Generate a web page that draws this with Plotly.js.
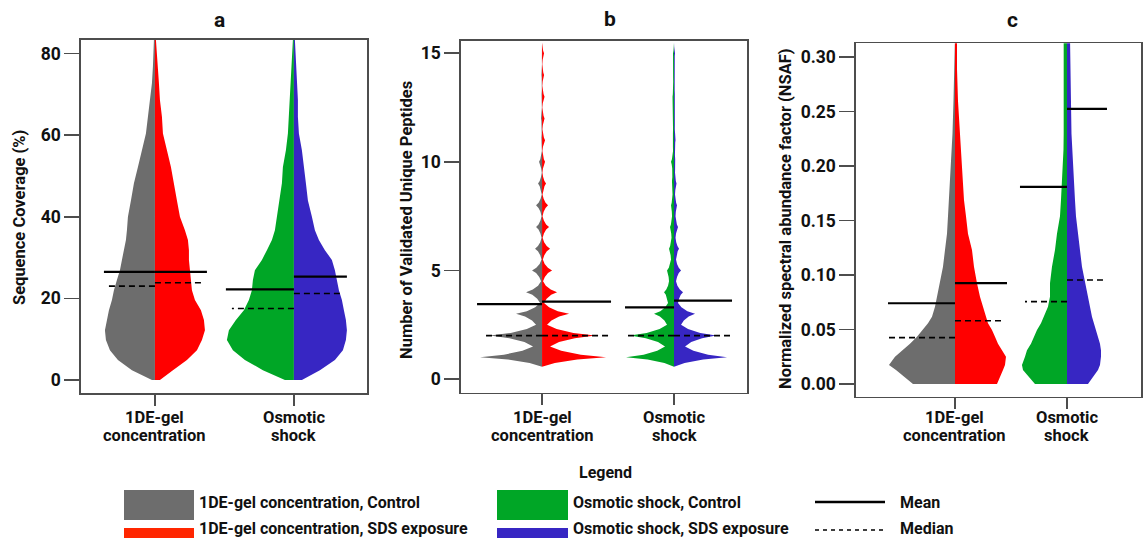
<!DOCTYPE html>
<html><head><meta charset="utf-8">
<script src="https://cdn.plot.ly/plotly-3.0.1.min.js"></script>
<style>html,body{margin:0;padding:0;background:#fff}#chart{width:1146px;height:538px}</style>
</head><body><div id="chart"></div>
<script>
// ---------------- DATA ----------------
const categories = [["1DE-gel", "concentration"], ["Osmotic", "shock"]];
const groupNames = ["1DE-gel concentration, Control", "1DE-gel concentration, SDS exposure",
                    "Osmotic shock, Control", "Osmotic shock, SDS exposure"];

// Panel a: Sequence Coverage (%) - relative density (half width) at each level
const covLevels      = [0,2.4,4.9,7.3,9.8,12.2,14.7,17.1,19.6,22,24.5,26.9,29.4,31.8,34.3,36.7,40,44,48.2,52.2,56.3,60.4,64.5,68.6,72.7,76.8,83.3];
const covGelControl  = [3,23,37,45,49,50,48,46,43,41,38,35,33,31,29,28,27,24,21,17,13,9,7,5,3,2,1];
const covGelSDS      = [5,18,32,42,47,50,49,46,40,37,36,35,34,34,33,30,25,22,19,16,12,8,7,5,4,3,1];
const covOsmControl  = [9,31,49,61,67,65,58,50,45,42,41,39,32,27,22,19,17,15,12,11,8,6,5,4,3,2,1];
const covOsmSDS      = [8,26,41,49,52,53,52,50,48,45,43,41,38,31,25,21,18,14,12,10,8,5,4,4,3,2,1];
const covMean        = [26.5, 26.5, 22.2, 25.3];
const covMedian      = [23.0, 23.8, 17.5, 21.2];

// Panel b: Number of Validated Unique Peptides (counts 1..15)
const pepCounts           = [1,2,3,4,5,6,7,8,9,10,11,12,13,14,15];
const pepRange            = [0.57, 15.5];
const pepPeakGelControl   = [62,52,26,16,10,7,6,6,4,3,1,1,0.8,0.6,0.5];
const pepTroughGelControl = [9,6,2,1,0.5,0.5,0.5,0.3,0.3,0.2,0.2,0.2,0.1,0.1];
const pepPeakGelSDS       = [64,53,27,15,10,8,7,6,4,3,3,2.5,2.5,2,2];
const pepTroughGelSDS     = [8,5,2,1,0.8,0.6,0.5,0.5,0.4,0.4,0.4,0.3,0.3,0.3];
const pepPeakOsmControl   = [48,44,20,10,7,5,4,3,2.5,3,1.5,1.5,1.5,1,1];
const pepTroughOsmControl = [9,7,6,5,3,2.5,2,1.5,1.5,1,1,1,0.8,0.8];
const pepPeakOsmSDS       = [53,42,21,9,7,5,4,3,2.5,1.5,1.5,1,1,1,1];
const pepTroughOsmSDS     = [11,7,4,2,2,1.5,1.5,1,1,0.8,0.8,0.6,0.6,0.5];
const pepMean             = [3.45, 3.56, 3.30, 3.61];
const pepMedian           = [2, 2, 2, 2];

// Panel c: NSAF
const nsafLevels      = [0,0.0129,0.0174,0.025,0.031,0.037,0.0434,0.0496,0.0557,0.0618,0.071,0.080,0.0925,0.1077,0.123,0.138,0.154,0.169,0.184,0.2,0.215,0.23,0.26,0.29,0.32];
const nsafGelControl  = [42,59,66,60,52,45,38,32,27,23,20,18,15,12,10,8,7,6,5,4,3,2.5,1.5,1,0.5];
const nsafGelSDS      = [42,48,50,51,47,43,40,37,33,31,28,25,22,19,17,13,11,9,8,7,6,5,3,2,2];
const nsafOsmControl  = [32,44,45,42,40,36,33,30,26,23,19,17,17,15,12,10,7,6,5,4,3.5,3.3,3.3,3.3,3.3];
const nsafOsmSDS      = [21,31,33,34,34,33,31,29,27,25,23,21,18,15,13,11,9,8,7,6,5,4.5,4,3.5,3];
const nsafMean        = [0.0741, 0.0925, 0.181, 0.2525];
const nsafMedian      = [0.0425, 0.058, 0.0756, 0.0955];

// ---------------- STYLE ----------------
const W = 1146, H = 538;
const violinColors = ["#6d6d6d", "#ff0000", "#00a626", "#3726c3"];
const legendColors = ["#6d6d6d", "#ff2600", "#00a626", "#3726c3"];
const FONT = "Roboto, 'Open Sans', Arial, sans-serif";
const AXC = "#4d4d4d";
// panel boxes in pixels [left, right, top, bottom]
const boxes = [[81,367,40,393],[461,747,40.7,392.7],[856,1141,43.3,396.7]];
const xRanges = [[0.468,2.526],[0.386,2.553],[0.116,2.661]];
const yRanges = [[-3.2,83.3],[-0.63,15.58],[-0.0117,0.3128]];
const yTicks  = [[0,20,40,60,80],[0,5,10,15],[0,0.05,0.10,0.15,0.20,0.25,0.30]];
const yFormats = ["", "", ".2f"];
const meanLen = [[51,52,68,53],[65,69,49,58],[67,52,47,40]];
const medLen  = [[47,47,62,48],[56,68,46,58],[67,48,42,40]];
const catLabelY = [[417,435],[417,435],[417,436]];
// spike shape between trough (t=1) and peak (t=0)
const SHAPE = [[1,0],[0.6,0.2],[0.24,0.55],[0,1]];

function spikeProfile(peaks, troughs, start, end){
  const L=[], Wd=[];
  for(let i=0;i<peaks.length;i++){
    const k=pepCounts[i], P=peaks[i];
    const lowT = i===0?0:troughs[i-1], lowPos = i===0?start:k-0.5;
    const last = i===peaks.length-1;
    const upT = last?0:troughs[i], upPos = last?end:k+0.5;
    if(i===0){L.push(lowPos);Wd.push(lowT);}
    for(let j=1;j<SHAPE.length;j++){const [t,f]=SHAPE[j];L.push(k-(k-lowPos)*t);Wd.push(lowT+(P-lowT)*f);}
    for(let j=SHAPE.length-2;j>=0;j--){const [t,f]=SHAPE[j];L.push(k+(upPos-k)*t);Wd.push(upT+(P-upT)*f);}
  }
  return [L,Wd];
}

const pepProfiles = [
  spikeProfile(pepPeakGelControl, pepTroughGelControl, pepRange[0], pepRange[1]),
  spikeProfile(pepPeakGelSDS, pepTroughGelSDS, pepRange[0], pepRange[1]),
  spikeProfile(pepPeakOsmControl, pepTroughOsmControl, pepRange[0], pepRange[1]),
  spikeProfile(pepPeakOsmSDS, pepTroughOsmSDS, pepRange[0], pepRange[1])
];
const panels = [
  {profiles:[[covLevels,covGelControl],[covLevels,covGelSDS],[covLevels,covOsmControl],[covLevels,covOsmSDS]], mean:covMean, median:covMedian},
  {profiles:pepProfiles, mean:pepMean, median:pepMedian},
  {profiles:[[nsafLevels,nsafGelControl],[nsafLevels,nsafGelSDS],[nsafLevels,nsafOsmControl],[nsafLevels,nsafOsmSDS]], mean:nsafMean, median:nsafMedian}
];

const traces = [];
panels.forEach((p, pi) => {
  const xa = pi===0?"x":"x"+(pi+1), ya = pi===0?"y":"y"+(pi+1);
  const b = boxes[pi];
  const scale = (xRanges[pi][1]-xRanges[pi][0])/(b[1]-b[0]); // data units per px
  p.profiles.forEach((prof, gi) => {
    const c = gi<2?1:2, dir = gi%2===0?-1:1;
    const [lv, wd] = prof;
    const xs=[c], ys=[lv[0]];
    lv.forEach((l,i)=>{xs.push(c+dir*wd[i]*scale); ys.push(l);});
    xs.push(c); ys.push(lv[lv.length-1]);
    traces.push({type:"scatter", mode:"lines", x:xs, y:ys, xaxis:xa, yaxis:ya, fill:"toself",
      fillcolor:violinColors[gi], line:{width:0, color:violinColors[gi]}, hoverinfo:"skip", showlegend:false});
  });
  [0,1,2,3].forEach(gi => {
    const c = gi<2?1:2, dir = gi%2===0?-1:1;
    traces.push({type:"scatter", mode:"lines", x:[c, c+dir*meanLen[pi][gi]*scale], y:[p.mean[gi],p.mean[gi]],
      xaxis:xa, yaxis:ya, line:{color:"#000", width:2.2}, hoverinfo:"skip", showlegend:false});
    traces.push({type:"scatter", mode:"lines", x:[c, c+dir*medLen[pi][gi]*scale], y:[p.median[gi],p.median[gi]],
      xaxis:xa, yaxis:ya, line:{color:"#000", width:1.6, dash:"6px,4px"}, hoverinfo:"skip", showlegend:false});
  });
});

const layout = {width:W, height:H, margin:{l:0,r:0,t:0,b:0}, paper_bgcolor:"#fff", plot_bgcolor:"#fff",
  showlegend:false, shapes:[], annotations:[]};
const X = px => px/W, Y = py => 1-py/H;
function txt(text, px, py, opts){
  layout.annotations.push(Object.assign({text:text, x:X(px), y:Y(py), xref:"paper", yref:"paper", showarrow:false,
    xanchor:"center", yanchor:"middle", font:{family:FONT, size:16.5, weight:"bold", color:"#111"}}, opts||{}));
}
boxes.forEach((b, pi) => {
  const sfx = pi===0?"":String(pi+1);
  layout["xaxis"+sfx] = {domain:[b[0]/W, b[1]/W], range:xRanges[pi], anchor:"y"+sfx,
    tickvals:[1,2], showticklabels:false, showline:true, mirror:true, linecolor:AXC, linewidth:1.6,
    ticks:"outside", ticklen:11, tickwidth:1.6, tickcolor:AXC, showgrid:false, zeroline:false, fixedrange:true};
  layout["yaxis"+sfx] = {domain:[1-b[3]/H, 1-b[2]/H], range:yRanges[pi], anchor:"x"+sfx,
    tickvals:yTicks[pi], tickformat:yFormats[pi], showline:true, mirror:true, linecolor:AXC, linewidth:1.6,
    ticks:"outside", ticklen:15, tickwidth:1.6, tickcolor:AXC, showgrid:false, zeroline:false, fixedrange:true,
    tickfont:{family:FONT, size:17.5, weight:"bold", color:"#111"}};
  // category labels, placed on the category positions of this x axis
  categories.forEach((lines, ci) => {
    lines.forEach((ln, li) => {
      layout.annotations.push({text:ln, x:ci+1, xref:"x"+sfx, y:Y(catLabelY[pi][li]), yref:"paper",
        showarrow:false, xanchor:"center", yanchor:"middle",
        font:{family:FONT, size:16.5, weight:"bold", color:"#111"}});
    });
  });
});
// panel letters
txt("a", 219, 20, {font:{family:FONT, size:21, weight:"bold", color:"#111"}});
txt("b", 610, 19, {font:{family:FONT, size:21, weight:"bold", color:"#111"}});
txt("c", 1012, 20, {font:{family:FONT, size:21, weight:"bold", color:"#111"}});
// axis titles
txt("Sequence Coverage (%)", 20, 218, {textangle:-90});
txt("Number of Validated Unique Peptides", 406, 220, {textangle:-90});
txt("Normalized spectral abundance factor (NSAF)", 785, 219, {textangle:-90});
// legend
txt("Legend", 606, 472, {font:{family:FONT, size:16, weight:"bold", color:"#111"}});
const swatches = [[124,194,490,520],[124,194,528,558],[497,568,490,520],[497,568,528,558]];
const textX = [197,197,571,571], textY = [502,528,502,528];
groupNames.forEach((g,i)=>{
  const s = swatches[i];
  layout.shapes.push({type:"rect", xref:"paper", yref:"paper", x0:X(s[0]), x1:X(s[1]), y0:Y(s[3]), y1:Y(s[2]),
    fillcolor:legendColors[i], line:{width:0}});
  txt(groupNames[i], textX[i], textY[i], {xanchor:"left", font:{family:FONT, size:16, weight:"bold", color:"#111"}});
});
layout.shapes.push({type:"line", xref:"paper", yref:"paper", x0:X(815), x1:X(885), y0:Y(502), y1:Y(502), line:{color:"#000", width:2.5}});
layout.shapes.push({type:"line", xref:"paper", yref:"paper", x0:X(815), x1:X(885), y0:Y(530), y1:Y(530), line:{color:"#000", width:1.4, dash:"4px,4px"}});
txt("Mean", 898, 502, {xanchor:"left", font:{family:FONT, size:16, weight:"bold", color:"#111"}});
txt("Median", 898, 528, {xanchor:"left", font:{family:FONT, size:16, weight:"bold", color:"#111"}});

Plotly.newPlot("chart", traces, layout, {displayModeBar:false, staticPlot:true});
</script></body></html>
